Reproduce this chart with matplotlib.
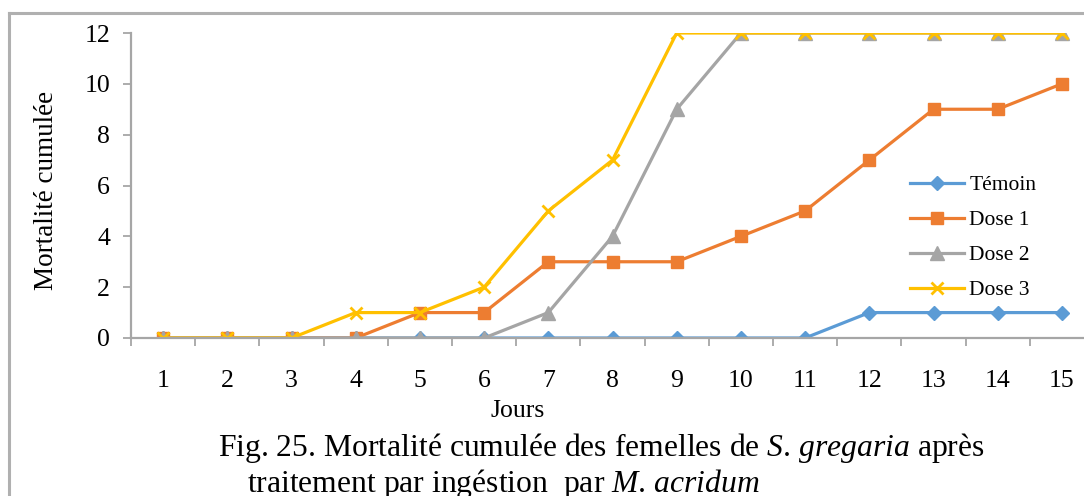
import matplotlib
matplotlib.use("Agg")
import matplotlib.pyplot as plt
from matplotlib.lines import Line2D
from matplotlib.ticker import FixedLocator

# days and cumulative mortality per group
jours = list(range(1, 16))
temoin = [0, 0, 0, 0, 0, 0, 0, 0, 0, 0, 0, 1, 1, 1, 1]
dose1 = [0, 0, 0, 0, 1, 1, 3, 3, 3, 4, 5, 7, 9, 9, 10]
dose2 = [0, 0, 0, 0, 0, 0, 1, 4, 9, 12, 12, 12, 12, 12, 12]
dose3 = [0, 0, 0, 1, 1, 2, 5, 7, 12, 12, 12, 12, 12, 12, 12]
y_ticks = [0, 2, 4, 6, 8, 10, 12]

plt.rcParams['font.family'] = ['Liberation Serif', 'DejaVu Serif']
plt.rcParams['mathtext.fontset'] = 'custom'
plt.rcParams['mathtext.it'] = 'Liberation Serif:italic'
plt.rcParams['mathtext.rm'] = 'Liberation Serif'

W, H = 1084, 496
fig = plt.figure(figsize=(W / 100, H / 100), dpi=100)

# outer frame (only top and left edges visible in the crop)
fig.add_artist(Line2D([9 / W, 9 / W], [0, 1 - 13 / H], color='#b0b0b0', lw=2.2))
fig.add_artist(Line2D([9 / W, 1], [1 - 13 / H, 1 - 13 / H], color='#b0b0b0', lw=2.2))

# plot area: x=0.5 at 131px, 15.5 at 1094px (cut by the right edge)
left, right = 131, 1094
top, bottom = 33, 338
ax = fig.add_axes([left / W, 1 - bottom / H, (right - left) / W, (bottom - top) / H])

grey = '#a6a6a6'
lw = 2.3
ms = 9
ax.plot(jours, temoin, color='#5b9bd5', lw=lw, marker='D', ms=ms - 1.5, label='Témoin')
ax.plot(jours, dose1, color='#ed7d31', lw=lw, marker='s', ms=ms, label='Dose 1')
ax.plot(jours, dose2, color='#a5a5a5', lw=lw, marker='^', ms=ms + 1, label='Dose 2')
ax.plot(jours, dose3, color='#ffc000', lw=lw, marker='x', ms=ms, mew=2, label='Dose 3')

ax.set_xlim(0.5, 15.5)
ax.set_ylim(0, 12)
ax.set_yticks(y_ticks)
ax.set_xticks(jours)
ax.xaxis.set_minor_locator(FixedLocator([i + 0.5 for i in range(0, 16)]))
ax.tick_params(axis='x', which='major', length=0, pad=23, labelsize=18.5)
ax.tick_params(axis='x', which='minor', length=6, width=1.3, color=grey, direction='out')
ax.tick_params(axis='y', length=6, width=1.3, color=grey, pad=9, labelsize=18.5)

for s in ['top', 'right']:
    ax.spines[s].set_visible(False)
for s in ['left', 'bottom']:
    ax.spines[s].set_color(grey)
    ax.spines[s].set_linewidth(1.6)

fig.text(47 / W, 1 - 190 / H, 'Mortalité cumulée', rotation=90, ha='center', va='center', fontsize=19.5)
fig.text(518 / W, 1 - 411 / H, 'Jours', ha='center', va='center', fontsize=18.5)

fig.text(218 / W, 1 - 448 / H,
         r'Fig. 25. Mortalité cumulée des femelles de $S$. $gregaria$ après',
         ha='left', va='center', fontsize=22.8)
fig.text(247 / W, 1 - 484 / H,
         r'traitement par ingéstion  par $M$. $acridum$',
         ha='left', va='center', fontsize=22.8)

leg = ax.legend(loc='upper left', bbox_to_anchor=(910 / W, 1 - 175 / H), bbox_transform=fig.transFigure,
                frameon=False, fontsize=15.5, handlelength=2.5, handletextpad=0.25, labelspacing=0.7,
                borderaxespad=0, borderpad=0)

fig.savefig('out.png', dpi=100)
